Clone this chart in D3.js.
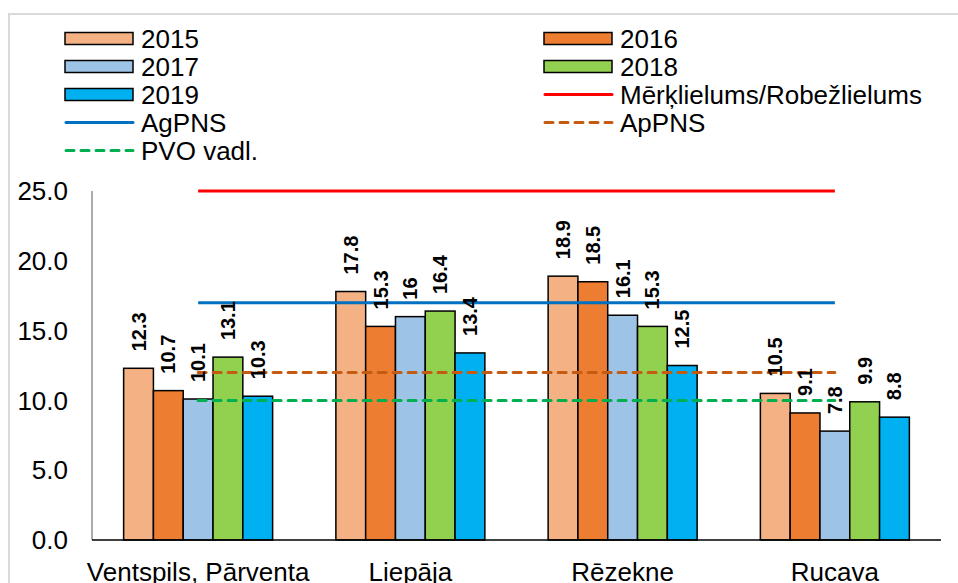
<!DOCTYPE html>
<html>
<head>
<meta charset="utf-8">
<script src="https://cdn.jsdelivr.net/npm/d3@7"></script>
<style>
  body { margin: 0; background: #fff; }
  text { font-family: "Liberation Sans", Arial, sans-serif; }
</style>
</head>
<body>
<svg id="chart" width="958" height="583"></svg>
<script>
// data
var stations = ["Ventspils, Pārventa", "Liepāja", "Rēzekne", "Rucava"];
var years = ["2015", "2016", "2017", "2018", "2019"];
var v2015 = [12.3, 17.8, 18.9, 10.5];
var v2016 = [10.7, 15.3, 18.5, 9.1];
var v2017 = [10.1, 16, 16.1, 7.8];
var v2018 = [13.1, 16.4, 15.3, 9.9];
var v2019 = [10.3, 13.4, 12.5, 8.8];
var limitNames = ["Mērķlielums/Robežlielums", "AgPNS", "ApPNS", "PVO vadl."];
var limitValues = [25, 17, 12, 10];
var yTicks = [0, 5, 10, 15, 20, 25];

var series = [v2015, v2016, v2017, v2018, v2019];
var barColors = ["#F4B183", "#ED7D31", "#9DC3E6", "#92D050", "#00B0F0"];
var lineColors = ["#FF0000", "#0070C0", "#C55A11", "#00B050"];
var lineDash = [null, null, "8,7", "8,7"];

var svg = d3.select("#chart");

// outer frame of the chart area (cut by the picture edges)
svg.append("rect")
  .attr("x", 9).attr("y", 14)
  .attr("width", 1000).attr("height", 700)
  .attr("fill", "none")
  .attr("stroke", "#d9d9d9")
  .attr("stroke-width", 2);

var plotL = 92, plotR = 941, plotT = 191, plotB = 540;

// excel style: gap split half on each side of a group
var x = d3.scaleBand().domain(stations).range([plotL, plotR])
  .paddingInner(0.298).paddingOuter(0.149);
var xi = d3.scaleBand().domain(years).range([0, x.bandwidth()]);
var y = d3.scaleLinear().domain([0, 25]).range([plotB, plotT]);

// y tick labels
svg.selectAll("text.ytick")
  .data(yTicks)
  .enter()
  .append("text")
  .attr("class", "ytick")
  .attr("x", 68)
  .attr("y", function(d) { return y(d); })
  .attr("dy", "0.35em")
  .attr("text-anchor", "end")
  .attr("font-size", "26px")
  .attr("fill", "#000")
  .text(function(d) { return d3.format(".1f")(d); });

// bars
var rows = [];
series.forEach(function(s, si) {
  s.forEach(function(v, ci) {
    rows.push({ station: stations[ci], year: years[si], value: v, si: si });
  });
});

svg.selectAll("rect.bar")
  .data(rows)
  .enter()
  .append("rect")
  .attr("class", "bar")
  .attr("x", function(d) { return x(d.station) + xi(d.year); })
  .attr("y", function(d) { return y(d.value); })
  .attr("width", xi.bandwidth())
  .attr("height", function(d) { return plotB - y(d.value); })
  .attr("fill", function(d) { return barColors[d.si]; })
  .attr("stroke", "#000")
  .attr("stroke-width", 1.5);

// axes lines
svg.append("line")
  .attr("x1", plotL).attr("x2", plotL)
  .attr("y1", plotT).attr("y2", plotB)
  .attr("stroke", "#7f7f7f").attr("stroke-width", 1.3);
svg.append("line")
  .attr("x1", plotL).attr("x2", plotR)
  .attr("y1", plotB).attr("y2", plotB)
  .attr("stroke", "#000").attr("stroke-width", 1.5);

// limit lines from first to last station centre
var xStart = x(stations[0]) + x.bandwidth() / 2;
var xEnd = x(stations[stations.length - 1]) + x.bandwidth() / 2;
svg.selectAll("line.limit")
  .data(limitValues)
  .enter()
  .append("line")
  .attr("class", "limit")
  .attr("x1", xStart).attr("x2", xEnd)
  .attr("y1", function(d) { return y(d); })
  .attr("y2", function(d) { return y(d); })
  .attr("stroke", function(d, i) { return lineColors[i]; })
  .attr("stroke-width", 3)
  .attr("stroke-linecap", function(d, i) { return lineDash[i] ? "round" : "butt"; })
  .attr("stroke-dasharray", function(d, i) { return lineDash[i]; });

// value labels
svg.selectAll("text.val")
  .data(rows)
  .enter()
  .append("text")
  .attr("class", "val")
  .attr("transform", function(d) {
    var cx = x(d.station) + xi(d.year) + xi.bandwidth() / 2;
    return "translate(" + cx + "," + (y(d.value) - 17) + ") rotate(-90)";
  })
  .attr("dy", "0.35em")
  .attr("font-size", "20px")
  .attr("font-weight", "bold")
  .attr("fill", "#000")
  .text(function(d) { return d.value; });

// category labels
svg.selectAll("text.cat")
  .data(stations)
  .enter()
  .append("text")
  .attr("class", "cat")
  .attr("x", function(d) { return x(d) + x.bandwidth() / 2; })
  .attr("y", 581)
  .attr("text-anchor", "middle")
  .attr("font-size", "26px")
  .attr("fill", "#000")
  .text(function(d) { return d; });

// legend
var legendItems = [];
years.forEach(function(yr, i) { legendItems.push({ name: yr, type: "bar", color: barColors[i] }); });
limitNames.forEach(function(n, i) { legendItems.push({ name: n, type: "line", color: lineColors[i], dash: lineDash[i] }); });

var colX = [65, 544];
var lg = svg.selectAll("g.leg")
  .data(legendItems)
  .enter()
  .append("g")
  .attr("class", "leg")
  .attr("transform", function(d, i) {
    return "translate(" + colX[i % 2] + "," + (38.5 + Math.floor(i / 2) * 28) + ")";
  });

lg.filter(function(d) { return d.type === "bar"; })
  .append("rect")
  .attr("x", 0).attr("y", -6)
  .attr("width", 68).attr("height", 12)
  .attr("fill", function(d) { return d.color; })
  .attr("stroke", "#000")
  .attr("stroke-width", 1.5);

lg.filter(function(d) { return d.type === "line"; })
  .append("line")
  .attr("x1", 1).attr("x2", 68)
  .attr("y1", 0).attr("y2", 0)
  .attr("stroke", function(d) { return d.color; })
  .attr("stroke-width", 3)
  .attr("stroke-linecap", "round")
  .attr("stroke-dasharray", function(d) { return d.dash; });

lg.append("text")
  .attr("x", 76)
  .attr("y", 0)
  .attr("dy", "0.35em")
  .attr("font-size", "26px")
  .attr("fill", "#000")
  .text(function(d) { return d.name; });
</script>
</body>
</html>
